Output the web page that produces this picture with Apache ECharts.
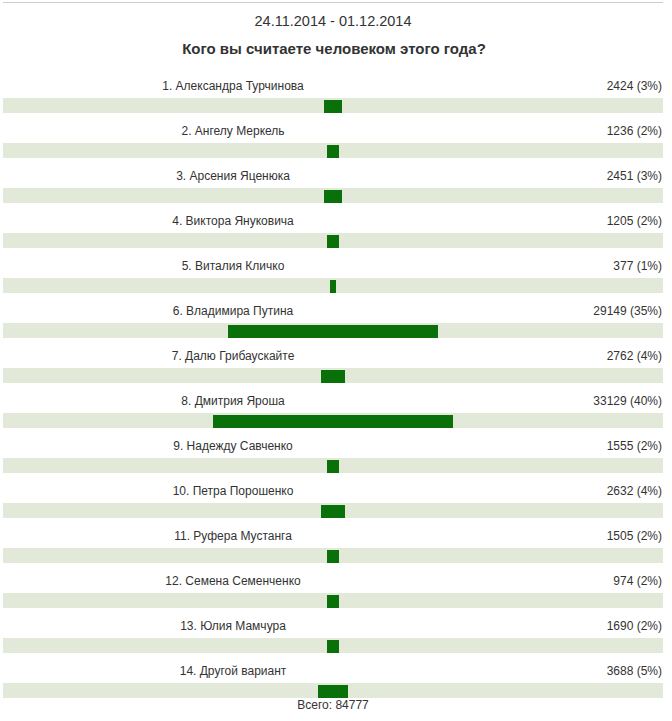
<!DOCTYPE html>
<html>
<head>
<meta charset="utf-8">
<script src="https://cdn.jsdelivr.net/npm/echarts@6/dist/echarts.min.js"></script>
<style>
  html, body { margin: 0; padding: 0; background: #fff; }
  #chart { width: 672px; height: 721px; }
</style>
</head>
<body>
<div id="chart"></div>
<script>
// данные опроса
const period = '24.11.2014 - 01.12.2014'
const question = 'Кого вы считаете человеком этого года?'
const names = [
  '1. Александра Турчинова',
  '2. Ангелу Меркель',
  '3. Арсения Яценюка',
  '4. Виктора Януковича',
  '5. Виталия Кличко',
  '6. Владимира Путина',
  '7. Далю Грибаускайте',
  '8. Дмитрия Яроша',
  '9. Надежду Савченко',
  '10. Петра Порошенко',
  '11. Руфера Мустанга',
  '12. Семена Семенченко',
  '13. Юлия Мамчура',
  '14. Другой вариант'
]
const votes = [2424, 1236, 2451, 1205, 377, 29149, 2762, 33129, 1555, 2632, 1505, 974, 1690, 3688]
const percents = [3, 2, 3, 2, 1, 35, 4, 40, 2, 4, 2, 2, 2, 5]
const total = 84777

const font = '"Liberation Sans", Arial, sans-serif'
const textColor = '#333'

const chart = echarts.init(document.getElementById('chart'), null, { renderer: 'svg' })

// каждая строка: подпись, число голосов и полоса по центру
function renderRow(params, api) {
  const i = params.dataIndex
  const pct = api.value(0)
  const row = api.value(1)
  const cs = params.coordSys
  const center = api.coord([0, row])
  const band = api.size([0, 1])[1]
  const bottom = center[1] + band / 2
  const x0 = api.coord([-pct / 2, row])[0]
  const x1 = api.coord([pct / 2, row])[0]
  return {
    type: 'group',
    children: [
      {
        type: 'rect',
        shape: { x: cs.x, y: bottom - 17, width: cs.width, height: 15 },
        style: { fill: '#e2e9d9' }
      },
      {
        type: 'rect',
        shape: { x: x0, y: bottom - 15, width: x1 - x0, height: 13 },
        style: { fill: '#0a700a' }
      },
      {
        type: 'text',
        x: cs.x + cs.width * 0.3485,
        y: bottom - 29,
        style: {
          text: names[i], fill: textColor, font: '12px ' + font,
          align: 'center', verticalAlign: 'middle'
        }
      },
      {
        type: 'text',
        x: cs.x + cs.width - 1,
        y: bottom - 29,
        style: {
          text: votes[i] + ' (' + percents[i] + '%)', fill: textColor, font: '12px ' + font,
          align: 'right', verticalAlign: 'middle'
        }
      }
    ]
  }
}

const option = {
  animation: false,
  grid: { left: 3, right: 9, top: 70, bottom: 21 },
  xAxis: { type: 'value', min: -55, max: 55, show: false },
  yAxis: { type: 'category', data: names, inverse: true, show: false },
  graphic: [
    {
      type: 'line',
      shape: { x1: 3, y1: 2.5, x2: 663, y2: 2.5 },
      style: { stroke: '#cccccc', lineWidth: 1 }
    },
    {
      type: 'text', x: 333, y: 21,
      style: { text: period, fill: textColor, font: '14.5px ' + font, align: 'center', verticalAlign: 'middle' }
    },
    {
      type: 'text', x: 334, y: 48,
      style: { text: question, fill: textColor, font: 'bold 15px ' + font, align: 'center', verticalAlign: 'middle' }
    },
    {
      type: 'text', x: 333, y: 705,
      style: { text: 'Всего: ' + total, fill: textColor, font: '12px ' + font, align: 'center', verticalAlign: 'middle' }
    }
  ],
  series: [
    {
      type: 'custom',
      renderItem: renderRow,
      encode: { x: 0, y: 1 },
      data: percents.map((p, i) => [p, i])
    }
  ]
}

chart.setOption(option)
</script>
</body>
</html>
